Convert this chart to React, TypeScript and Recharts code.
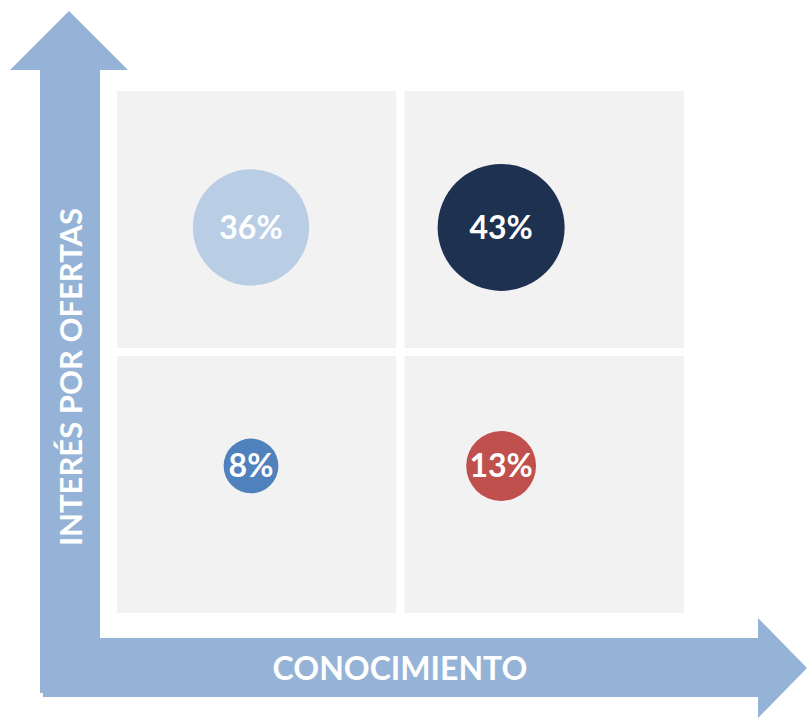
import React from 'react';
import { ScatterChart, Scatter, XAxis, YAxis, ZAxis, ReferenceArea, LabelList, Cell } from 'recharts';

const labels = ['36%', '43%', '8%', '13%'];
const values = [36, 43, 8, 13];
const xPos = [0.48, 1.35, 0.48, 1.35];
const yPos = [1.47, 1.47, 0.57, 0.57];
const colors = ['#b9cde5', '#1e3150', '#4f81bd', '#c0504d'];
const quadrants = [
  { x1: 0, x2: 1, y1: 1, y2: 2 },
  { x1: 1, x2: 2, y1: 1, y2: 2 },
  { x1: 0, x2: 1, y1: 0, y2: 1 },
  { x1: 1, x2: 2, y1: 0, y2: 1 },
];
const xTitle = 'CONOCIMIENTO';
const yTitle = 'INTERÉS POR OFERTAS';

const data = labels.map((l, i) => ({ label: l, value: values[i], x: xPos[i], y: yPos[i] }));

const W = 807;
const H = 719;
const ARROW = '#95b3d7';
const FONT = 'Lato, "Noto Sans", sans-serif';

export default function App() {
  return (
    <div style={{ position: 'absolute', left: 0, top: 0, width: W, height: H, background: '#fff' }}>
      <svg width={W} height={H} style={{ position: 'absolute', left: 0, top: 0 }}>
        <polygon points="40,693 40,70 10,70 69,11 128,70 100,70 100,693" fill={ARROW} />
        <polygon points="43,638 758,638 758,618 807,668 758,718 758,697 43,697" fill={ARROW} />
        <text x={400} y={667} textAnchor="middle" dominantBaseline="central" fill="#fff"
          fontFamily={FONT} fontWeight={700} fontSize={32}>{xTitle}</text>
        <text x={70} y={377} textAnchor="middle" dominantBaseline="central" fill="#fff"
          fontFamily={FONT} fontWeight={700} fontSize={31}
          transform="rotate(-90 70 377)">{yTitle}</text>
      </svg>
      <div style={{ position: 'absolute', left: 0, top: 0 }}>
        <ScatterChart width={W} height={H} margin={{ left: 113, right: 119, top: 87, bottom: 102 }}>
          <XAxis type="number" dataKey="x" domain={[0, 2]} hide />
          <YAxis type="number" dataKey="y" domain={[0, 2]} hide />
          <ZAxis type="number" dataKey="value" domain={[0, 43]} range={[0, 12668]} />
          {quadrants.map((q, i) => (
            <ReferenceArea key={i} x1={q.x1} x2={q.x2} y1={q.y1} y2={q.y2}
              fill="#f2f2f2" fillOpacity={1} stroke="#ffffff" strokeWidth={8} ifOverflow="visible" />
          ))}
          <Scatter data={data} isAnimationActive={false}>
            {data.map((d, i) => <Cell key={i} fill={colors[i]} />)}
            <LabelList dataKey="label" position="center" fill="#ffffff"
              style={{ fontFamily: FONT, fontWeight: 700, fontSize: 32 }} />
          </Scatter>
        </ScatterChart>
      </div>
    </div>
  );
}
